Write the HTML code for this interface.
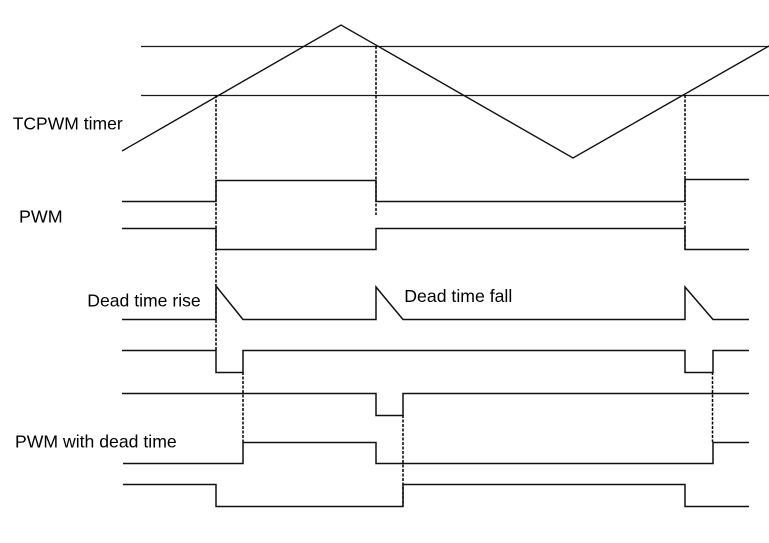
<!DOCTYPE html>
<html><head><meta charset="utf-8"><style>
html,body{margin:0;padding:0;background:#fff;}
svg{display:block;}
text{font-family:"Liberation Sans",Arial,sans-serif;font-size:17.6px;fill:#000;}
</style></head><body>
<svg width="769" height="543" viewBox="0 0 769 543" xmlns="http://www.w3.org/2000/svg">
<g fill="none" stroke="#1a1a1a" stroke-width="1.2">
<line x1="141" y1="46.5" x2="769" y2="46.5"/>
<line x1="141" y1="95.5" x2="769" y2="95.5"/>
</g>
<g fill="none" stroke="#111" stroke-width="1.4">
<polyline points="122,151 341,25 573,158 769,46"/>
</g>
<g fill="none" stroke="#000" stroke-width="1.5" stroke-dasharray="3 1.5">
<line x1="216" y1="95" x2="216" y2="350"/>
<line x1="376" y1="46" x2="376" y2="215"/>
<line x1="685" y1="95" x2="685" y2="249"/>
<line x1="243" y1="372" x2="243" y2="442"/>
<line x1="403" y1="415" x2="403" y2="506"/>
<line x1="712.5" y1="372" x2="712.5" y2="442"/>
</g>
<g fill="none" stroke="#111" stroke-width="1.5" stroke-linejoin="miter">
<path d="M122,201.5 H216 V180.5 H376 V201.5 H685 V179.5 H749"/>
<path d="M122,228.5 H216 V249.5 H376 V228.5 H685 V249.5 H749"/>
<path d="M122,319.5 H216 V286 L243,319.5 H376 V287 L403,319.5 H685 V287 L713,319.5 H749"/>
<path d="M122,350.5 H216 V372.5 H243 V350.5 H685 V372.5 H713 V350.5 H749"/>
<path d="M122,393.5 H376 V415.5 H403 V393.5 H749"/>
<path d="M123,463.5 H243 V442.5 H376 V463.5 H713 V442.5 H749"/>
<path d="M123,484.5 H216 V506.5 H403 V484.5 H685 V506.5 H749"/>
</g>
<text x="12.7" y="129.3" textLength="110" lengthAdjust="spacingAndGlyphs">TCPWM timer</text>
<text x="19" y="222.7" textLength="43.7" lengthAdjust="spacingAndGlyphs">PWM</text>
<text x="87.3" y="306.7" textLength="113.4" lengthAdjust="spacingAndGlyphs">Dead time rise</text>
<text x="404.3" y="302" textLength="108" lengthAdjust="spacingAndGlyphs">Dead time fall</text>
<text x="15" y="447.7" textLength="161.7" lengthAdjust="spacingAndGlyphs">PWM with dead time</text>
</svg>
</body></html>
